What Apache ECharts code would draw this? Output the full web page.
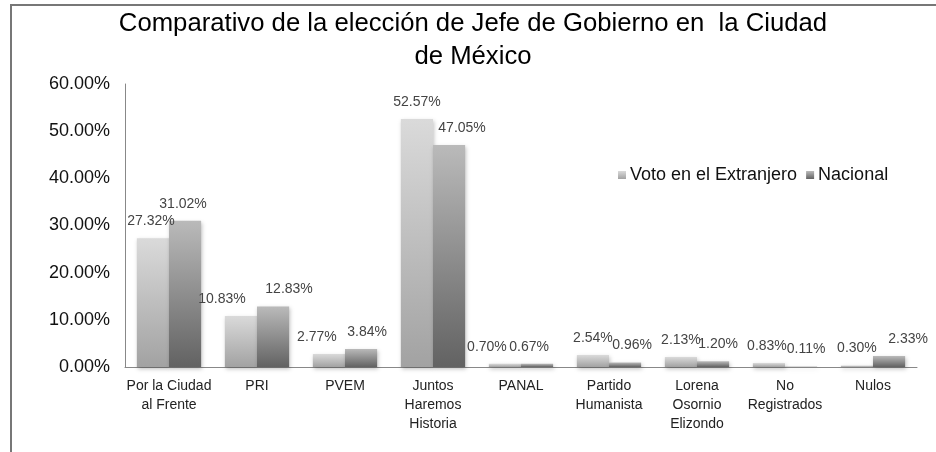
<!DOCTYPE html>
<html>
<head>
<meta charset="utf-8">
<script src="https://cdn.jsdelivr.net/npm/echarts@6/dist/echarts.min.js"></script>
<style>html,body{margin:0;padding:0;background:#fff}#c{width:936px;height:452px}</style>
</head>
<body>
<div id="c"></div>
<script>
const categories = ['Por la Ciudad\nal Frente', 'PRI', 'PVEM', 'Juntos\nHaremos\nHistoria', 'PANAL', 'Partido\nHumanista', 'Lorena\nOsornio\nElizondo', 'No\nRegistrados', 'Nulos'];
const seriesNames = ['Voto en el Extranjero', 'Nacional'];
const votoExtranjero = [27.32, 10.83, 2.77, 52.57, 0.70, 2.54, 2.13, 0.83, 0.30];
const nacional = [31.02, 12.83, 3.84, 47.05, 0.67, 0.96, 1.20, 0.11, 2.33];
const yTicks = [0, 10, 20, 30, 40, 50, 60];

// label nudges (styling only)
const nudgeExt = [-2, -19, -12, 0, -18, 0, 0, -2, 0];
const nudgeNac = [-2, 16, 6, 13, -8, 7, 5, 5, 19];

const font = 'Liberation Sans, Arial, sans-serif';
const chart = echarts.init(document.getElementById('c'));

function grad(top, bottom) {
  return new echarts.graphic.LinearGradient(0, 0, 0, 1, [
    { offset: 0, color: top }, { offset: 1, color: bottom }
  ]);
}
function build(vals, nudges) {
  return vals.map((v, i) => ({ value: v, label: { offset: [nudges[i], 0] } }));
}
const labelStyle = {
  show: true, position: 'top', distance: 10,
  fontFamily: font, fontSize: 14, color: '#444',
  formatter: p => p.value.toFixed(2) + '%'
};

chart.setOption({
  animation: false,
  backgroundColor: '#fff',
  title: {
    text: 'Comparativo de la elección de Jefe de Gobierno en  la Ciudad\nde México',
    left: 468, top: 2, textAlign: 'center',
    textStyle: { fontFamily: font, fontSize: 25.7, fontWeight: 'normal', color: '#000', lineHeight: 33 }
  },
  legend: {
    data: seriesNames,
    left: 613, top: 161,
    itemWidth: 8, itemHeight: 8, itemGap: 9,
    icon: 'rect',
    textStyle: { fontFamily: font, fontSize: 18, color: '#111', padding: [0, 0, 0, -1] }
  },
  grid: { left: 125, right: 19, top: 84, bottom: 85 },
  xAxis: {
    type: 'category', data: categories,
    axisLine: { lineStyle: { color: '#888', width: 1 } },
    axisTick: { show: false },
    axisLabel: { interval: 0, fontFamily: font, fontSize: 14, color: '#222', lineHeight: 19, margin: 10 }
  },
  yAxis: {
    type: 'value', min: 0, max: 60, interval: 10,
    axisLine: { show: true, lineStyle: { color: '#888', width: 1 } },
    axisTick: { show: false },
    splitLine: { show: false },
    axisLabel: {
      fontFamily: font, fontSize: 18, color: '#111', margin: 15,
      formatter: v => yTicks.includes(v) ? v.toFixed(2) + '%' : ''
    }
  },
  series: [
    {
      name: seriesNames[0], type: 'bar', data: build(votoExtranjero, nudgeExt),
      barGap: '0%', barCategoryGap: '27%',
      itemStyle: { color: grad('#dadada', '#a2a2a2'), shadowBlur: 4, shadowColor: 'rgba(0,0,0,0.25)', shadowOffsetX: 1, shadowOffsetY: 2 },
      label: labelStyle
    },
    {
      name: seriesNames[1], type: 'bar', data: build(nacional, nudgeNac),
      barGap: '0%', barCategoryGap: '27%',
      itemStyle: { color: grad('#bababa', '#626262'), shadowBlur: 4, shadowColor: 'rgba(0,0,0,0.25)', shadowOffsetX: 1, shadowOffsetY: 2 },
      label: labelStyle
    }
  ],
  graphic: [
    { type: 'line', shape: { x1: 11, y1: 4, x2: 11, y2: 452 }, style: { stroke: '#777', lineWidth: 2 }, silent: true },
    { type: 'line', shape: { x1: 10, y1: 5, x2: 936, y2: 5 }, style: { stroke: '#777', lineWidth: 2 }, silent: true }
  ]
});
</script>
</body>
</html>
